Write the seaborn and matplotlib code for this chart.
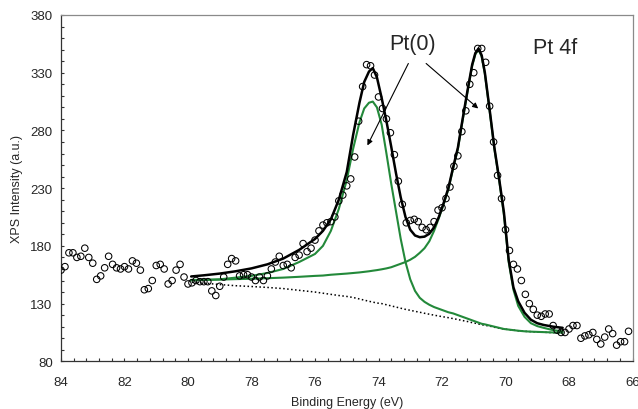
import numpy as np
import pandas as pd
import seaborn as sns
import matplotlib.pyplot as plt
from matplotlib.ticker import MultipleLocator

# measured spectrum (binding energy in eV, intensity in a.u.)
energy = [
    84.0, 83.875, 83.75, 83.625, 83.5, 83.375, 83.25, 83.125,
    83.0, 82.875, 82.75, 82.625, 82.5, 82.375, 82.25, 82.125,
    82.0, 81.875, 81.75, 81.625, 81.5, 81.375, 81.25, 81.125,
    81.0, 80.875, 80.75, 80.625, 80.5, 80.375, 80.25, 80.125,
    80.0, 79.875, 79.75, 79.625, 79.5, 79.375, 79.25, 79.125,
    79.0, 78.875, 78.75, 78.625, 78.5, 78.375, 78.25, 78.125,
    78.0, 77.875, 77.75, 77.625, 77.5, 77.375, 77.25, 77.125,
    77.0, 76.875, 76.75, 76.625, 76.5, 76.375, 76.25, 76.125,
    76.0, 75.875, 75.75, 75.625, 75.5, 75.375, 75.25, 75.125,
    75.0, 74.875, 74.75, 74.625, 74.5, 74.375, 74.25, 74.125,
    74.0, 73.875, 73.75, 73.625, 73.5, 73.375, 73.25, 73.125,
    73.0, 72.875, 72.75, 72.625, 72.5, 72.375, 72.25, 72.125,
    72.0, 71.875, 71.75, 71.625, 71.5, 71.375, 71.25, 71.125,
    71.0, 70.875, 70.75, 70.625, 70.5, 70.375, 70.25, 70.125,
    70.0, 69.875, 69.75, 69.625, 69.5, 69.375, 69.25, 69.125,
    69.0, 68.875, 68.75, 68.625, 68.5, 68.375, 68.25, 68.125,
    68.0, 67.875, 67.75, 67.625, 67.5, 67.375, 67.25, 67.125,
    67.0, 66.875, 66.75, 66.625, 66.5, 66.375, 66.25, 66.125,
]
intensity = [
    159, 162, 174, 174, 170, 171, 178, 170,
    165, 151, 154, 161, 171, 164, 161, 160,
    162, 160, 167, 165, 159, 142, 143, 150,
    163, 164, 160, 147, 150, 159, 164, 153,
    147, 148, 150, 149, 149, 149, 141, 137,
    145, 153, 164, 169, 167, 154, 155, 155,
    153, 150, 153, 150, 154, 160, 166, 171,
    163, 164, 161, 170, 172, 182, 175, 178,
    185, 193, 198, 200, 201, 205, 219, 224,
    232, 238, 257, 288, 318, 337, 336, 328,
    309, 299, 290, 278, 259, 236, 216, 200,
    202, 203, 201, 196, 194, 196, 201, 211,
    213, 221, 231, 249, 258, 279, 297, 320,
    330, 351, 351, 339, 301, 270, 241, 221,
    194, 176, 164, 160, 150, 138, 130, 125,
    120, 119, 121, 121, 111, 107, 105, 105,
    108, 111, 111, 100, 102, 103, 105, 99,
    95, 101, 108, 104, 94, 97, 97, 106,
]

fit_energy = [
    79.9, 79.5, 79.0, 78.5, 78.0, 77.5, 77.0, 76.5, 76.0, 75.75,
    75.5, 75.25, 75.0, 74.8, 74.6, 74.45, 74.3, 74.18, 74.05, 73.9,
    73.75, 73.6, 73.45, 73.3, 73.15, 73.0, 72.85, 72.7, 72.55, 72.4,
    72.25, 72.1, 71.95, 71.8, 71.65, 71.5, 71.35, 71.2, 71.05, 70.95,
    70.85, 70.75, 70.65, 70.5, 70.35, 70.2, 70.05, 69.9, 69.75, 69.6,
    69.4, 69.2, 69.0, 68.8, 68.5, 68.2,
]
fit_total = [
    153.5, 154.5, 156, 158, 160.5, 164, 169, 176.5, 186, 193,
    203, 220, 244, 276, 304, 322, 331, 334, 326, 308,
    288, 266, 243, 222, 205, 194, 189, 187.5, 188, 190.5,
    196, 205, 217, 230, 248, 265, 290, 314, 337, 347,
    351, 345, 330, 298, 265, 238, 209, 168, 144, 132,
    122, 116, 113, 111.5, 110, 109,
]
fit_pt_52 = [
    150.5, 150.5, 151, 152.5, 154, 156.5, 160, 166, 173, 180,
    193, 212, 237, 264, 287, 299, 304, 305, 300, 285,
    260, 234, 210, 186, 166, 151, 141, 135, 131.5, 129,
    127, 125.5, 124, 122.5, 121.5, 120, 118.5, 117, 115.5, 114.5,
    113.5, 112.5, 112, 111, 110, 109, 108, 107.5, 107, 106.5,
    106, 105.7, 105.5, 105.3, 105, 104.8,
]
fit_pt_72 = [
    150, 150.5, 150.8, 151.2, 151.5, 152, 152.5, 153.2, 154, 154.3,
    155, 155.5, 156, 156.5, 157, 157.5, 158, 158.5, 159, 159.7,
    160.5, 161.5, 163, 164.5, 166, 168, 170.5, 174, 178, 184,
    193, 204, 216, 229, 247, 264, 289, 313, 336, 346,
    350, 344, 329, 297, 264, 237, 207, 166, 142, 128,
    118.5, 113, 110.5, 109, 107, 106,
]
background = [
    148.5, 147.8, 146.5, 145.5, 144.8, 144, 143, 141.5, 140, 139,
    138, 137, 136.2, 135.3, 134, 133, 132, 131.3, 130.5, 130,
    129, 128, 127, 126, 125, 124.2, 123.3, 122.5, 121.6, 120.8,
    120, 119.2, 118.5, 117.8, 117, 116.2, 115.3, 114.5, 113.5, 113,
    112.3, 111.7, 111.2, 110.5, 109.5, 108.7, 108, 107.5, 107, 106.5,
    106, 105.7, 105.4, 105.2, 104.8, 104.5,
]

x_ticks = [84, 82, 80, 78, 76, 74, 72, 70, 68, 66]
y_ticks = [80, 130, 180, 230, 280, 330, 380]

GREEN = "#23893a"

sns.set_theme(style="ticks")
plt.rcParams["font.family"] = ["Liberation Sans", "DejaVu Sans"]

spectrum = pd.DataFrame({"energy": energy, "intensity": intensity})
fits = pd.DataFrame({
    "energy": fit_energy,
    "total": fit_total,
    "pt52": fit_pt_52,
    "pt72": fit_pt_72,
    "bg": background,
})

fig = plt.figure(figsize=(6.38, 4.10), dpi=100)
ax = fig.add_axes([0.0956, 0.1163, 0.8958, 0.8447])

sns.lineplot(data=fits, x="energy", y="bg", ax=ax, color="black",
             linewidth=1.1, linestyle=(0, (1, 1.6)), estimator=None)
sns.lineplot(data=fits, x="energy", y="pt52", ax=ax, color=GREEN,
             linewidth=1.5, estimator=None)
sns.lineplot(data=fits, x="energy", y="pt72", ax=ax, color=GREEN,
             linewidth=1.5, estimator=None)
sns.lineplot(data=fits, x="energy", y="total", ax=ax, color="black",
             linewidth=1.8, estimator=None)
sns.scatterplot(data=spectrum, x="energy", y="intensity", ax=ax,
                marker="o", s=22, facecolor="none", edgecolor="black",
                linewidth=0.75, zorder=5)

ax.set_xlim(84, 66)
ax.set_ylim(80, 380)
ax.set_xticks(x_ticks)
ax.set_yticks(y_ticks)
ax.xaxis.set_minor_locator(MultipleLocator(0.4))
ax.yaxis.set_minor_locator(MultipleLocator(10))
ax.tick_params(axis="both", which="both", direction="in", length=2.2,
               width=0.8, color="#333333", labelsize=9.5)
ax.tick_params(axis="x", which="major", pad=10.5)
ax.tick_params(axis="y", which="major", pad=6)

for side in ["left", "bottom"]:
    ax.spines[side].set_color("#333333")
    ax.spines[side].set_linewidth(0.9)
for side in ["top", "right"]:
    ax.spines[side].set_visible(True)
    ax.spines[side].set_color("#8a8a8a")
    ax.spines[side].set_linewidth(0.9)

ax.set_xlabel("Binding Energy (eV)", fontsize=9)
ax.set_ylabel("XPS Intensity (a.u.)", fontsize=9)
ax.xaxis.set_label_coords(0.5, -0.1)
ax.yaxis.set_label_coords(-0.066, 0.5)

ax.text(72.93, 355, "Pt(0)", fontsize=15.5, ha="center", va="center")
ax.text(68.45, 352, "Pt 4f", fontsize=15.5, ha="center", va="center")

arrow = dict(arrowstyle="-|>", color="black", lw=0.8, mutation_scale=8,
             shrinkA=0, shrinkB=0)
ax.annotate("", xy=(74.35, 267), xytext=(73.06, 338), arrowprops=arrow)
ax.annotate("", xy=(70.86, 299), xytext=(72.5, 338), arrowprops=arrow)

fig.savefig("out.png", dpi=100)
